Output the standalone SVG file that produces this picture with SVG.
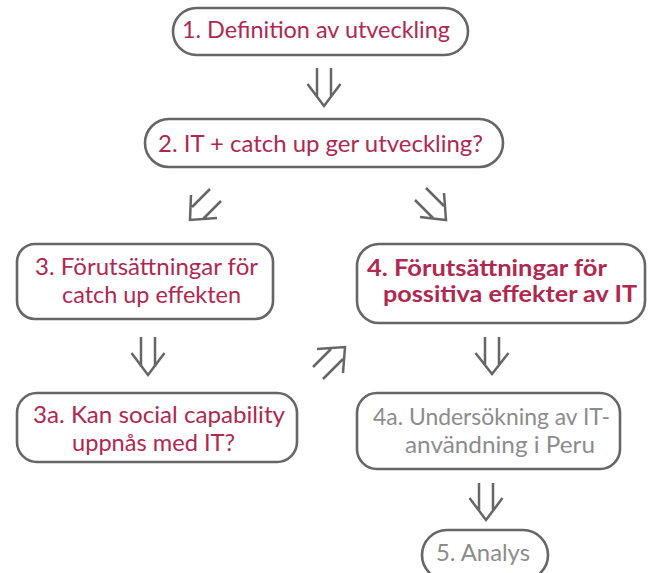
<svg xmlns="http://www.w3.org/2000/svg" width="652" height="573" viewBox="0 0 652 573">
<style>
.box{fill:#fff;stroke:#666;stroke-width:2.6}
.t{font-family:Lato,"Liberation Sans",sans-serif;font-size:23px;fill:#B0284F}
.b{font-weight:bold;font-size:22px}
.g{fill:#8C8C8C}
.arr{fill:none;stroke:#666;stroke-width:2.5;stroke-linecap:butt;stroke-linejoin:miter}
</style>
<rect width="652" height="573" fill="#fff"/>
<g id="connectors">
<path class="arr" d="M317,68V96M331,68V96M307.5,84L324,106L340.5,84"/>
<path class="arr" d="M210,189L192,207M221,201L203,219M191,195L190,220L217,218"/>
<path class="arr" d="M426,188L444,206M415,200L433,218M444,193L446,220L420,217"/>
<path class="arr" d="M141,337V367M155,337V367M131.5,353L148,375L164.5,353"/>
<path class="arr" d="M313,367L331,349M323,379L343,359M317,349L345,347L343,373"/>
<path class="arr" d="M485,337V365M499,337V365M475.5,353L492,374L508.5,353"/>
<path class="arr" d="M479,483V511M493,483V511M469.5,498L486,520L502.5,498"/>
</g>
<g id="n1">
<rect class="box" x="173" y="8" width="295" height="47" rx="23.5"/>
<text class="t" x="182" y="38" textLength="268" lengthAdjust="spacingAndGlyphs">1. Definition av utveckling</text>
</g>
<g id="n2">
<rect class="box" x="145" y="119" width="358" height="48" rx="24"/>
<text class="t" x="158" y="152" font-size="24" textLength="325" lengthAdjust="spacingAndGlyphs">2. IT + catch up ger utveckling?</text>
</g>
<g id="n3">
<rect class="box" x="17" y="244" width="256" height="75" rx="18"/>
<text class="t" x="35" y="275" textLength="223" lengthAdjust="spacingAndGlyphs">3. Förutsättningar för</text>
<text class="t" x="62" y="303" textLength="179" lengthAdjust="spacingAndGlyphs">catch up effekten</text>
</g>
<g id="n4">
<rect class="box" x="357" y="244" width="288" height="79" rx="22"/>
<text class="t b" x="367" y="276" textLength="240" lengthAdjust="spacingAndGlyphs">4. Förutsättningar för</text>
<text class="t b" x="383" y="302" textLength="254" lengthAdjust="spacingAndGlyphs">possitiva effekter av IT</text>
</g>
<g id="n3a">
<rect class="box" x="17" y="393" width="280" height="69" rx="20"/>
<text class="t" x="33" y="423" textLength="252" lengthAdjust="spacingAndGlyphs">3a. Kan social capability</text>
<text class="t" x="72" y="451" textLength="163" lengthAdjust="spacingAndGlyphs">uppnås med IT?</text>
</g>
<g id="n4a">
<rect class="box" x="357" y="393" width="263" height="76" rx="20"/>
<text class="t g" x="373" y="425" textLength="237" lengthAdjust="spacingAndGlyphs">4a. Undersökning av IT-</text>
<text class="t g" x="405" y="453" textLength="190" lengthAdjust="spacingAndGlyphs">användning i Peru</text>
</g>
<g id="n5">
<rect class="box" x="422" y="530" width="126" height="50" rx="25"/>
<text class="t g" x="436" y="561" textLength="94" lengthAdjust="spacingAndGlyphs">5. Analys</text>
</g>
</svg>
